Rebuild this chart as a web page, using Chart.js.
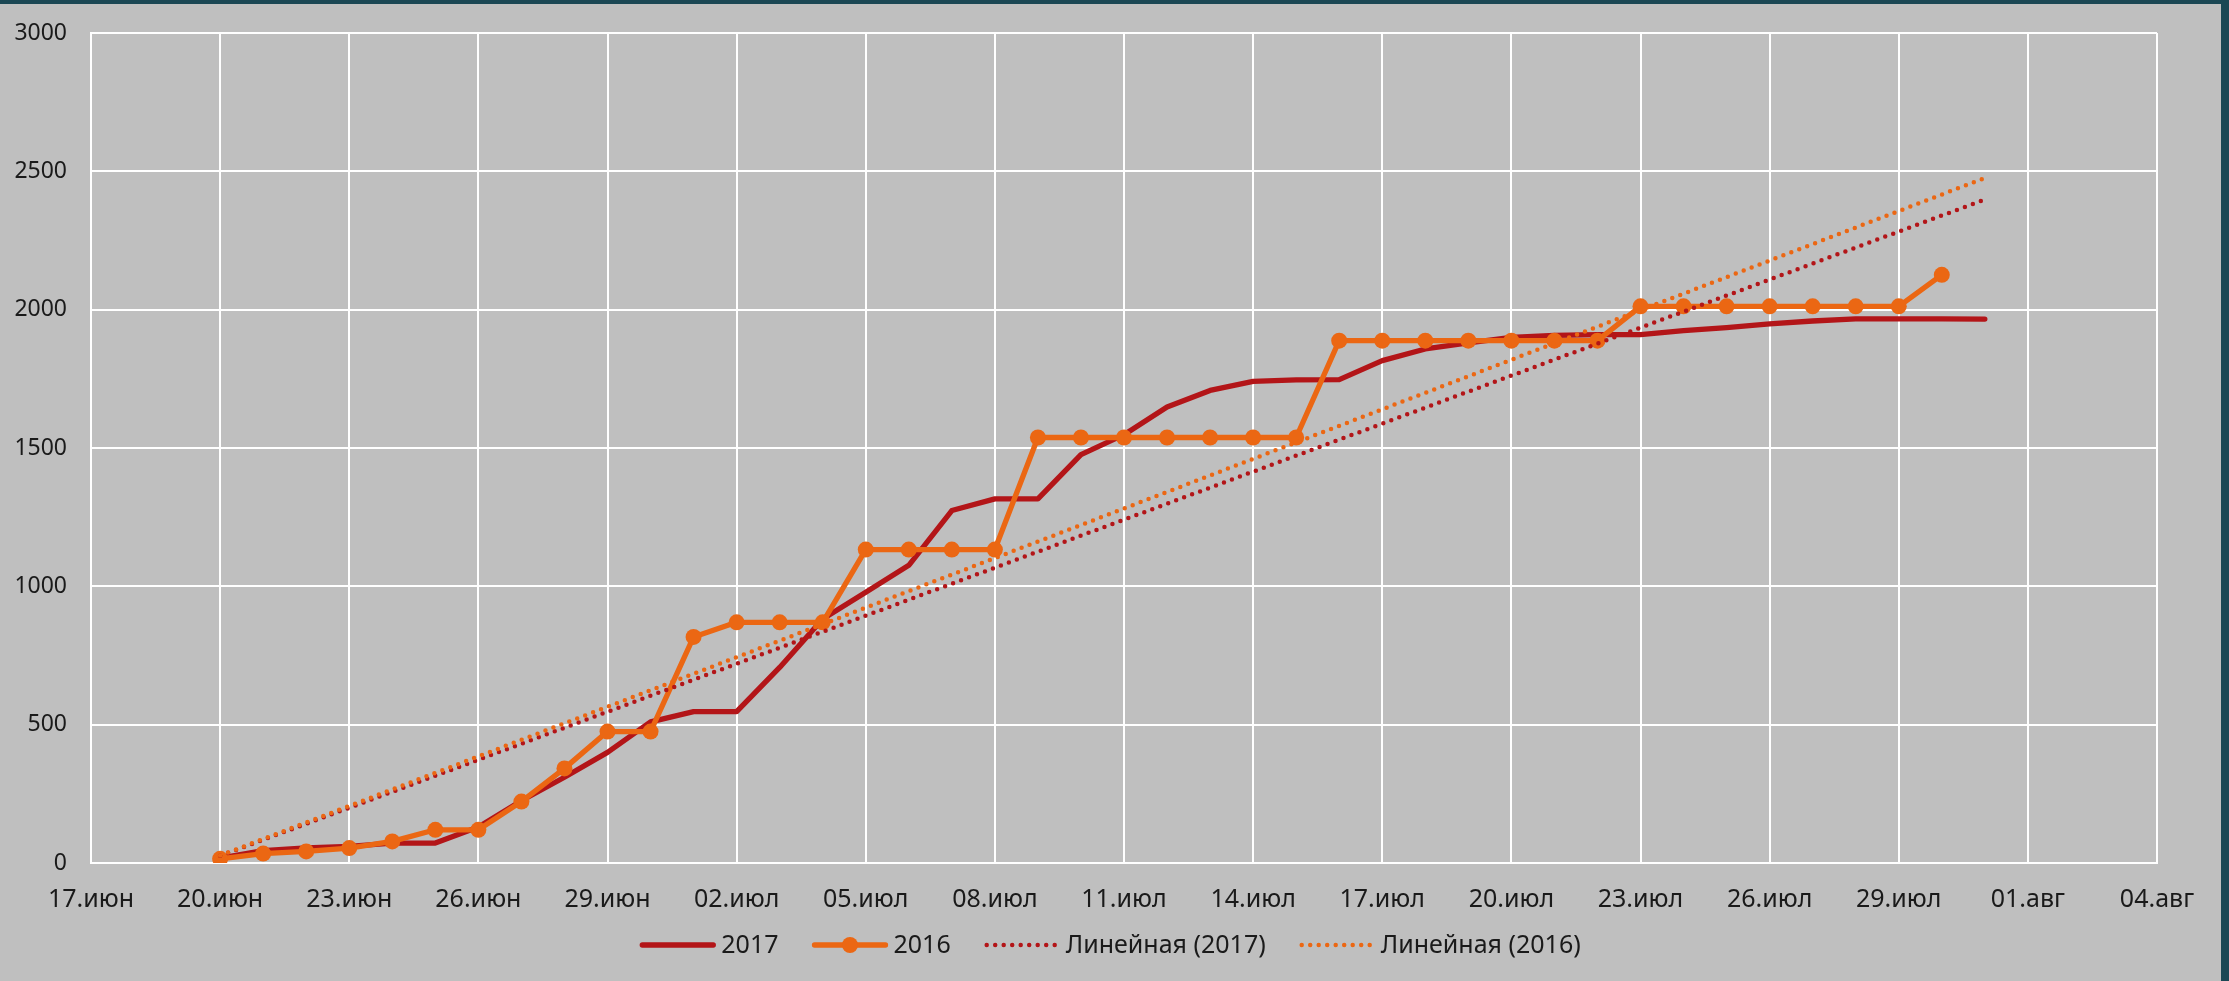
<!DOCTYPE html>
<html>
<head>
<meta charset="utf-8">
<script src="https://cdn.jsdelivr.net/npm/chart.js@4.4.1/dist/chart.umd.min.js"></script>
<style>
  html, body { margin: 0; padding: 0; background: #1b4754; overflow: hidden; }
  #wrap { position: absolute; left: 0; top: 4px; width: 2221px; height: 977px; background: #bfbfbf; }
  canvas { display: block; }
</style>
</head>
<body>
<div id="wrap"><canvas id="chart" width="2221" height="977"></canvas></div>
<script>
// x axis runs in days counted from 17.июн
const xTickLabels = ["17.июн", "20.июн", "23.июн", "26.июн", "29.июн", "02.июл", "05.июл",
  "08.июл", "11.июл", "14.июл", "17.июл", "20.июл", "23.июл", "26.июл", "29.июл", "01.авг", "04.авг"];
const yTicks = [0, 500, 1000, 1500, 2000, 2500, 3000];

const firstDay2017 = 3; // 20.июн
const values2017 = [18, 45, 55, 60, 72, 72, 130, 225, 310, 400, 510, 547, 547, 707, 882, 979,
  1076, 1274, 1316, 1316, 1476, 1548, 1648, 1708, 1741, 1746, 1747, 1816, 1858, 1880, 1900,
  1907, 1910, 1910, 1924, 1935, 1949, 1959, 1967, 1967, 1967, 1966];

const firstDay2016 = 3; // 20.июн
const values2016 = [15, 34, 42, 54, 78, 120, 120, 222, 342, 475, 475, 817, 870, 870, 870, 1133,
  1133, 1133, 1133, 1538, 1538, 1538, 1538, 1538, 1538, 1538, 1888, 1888, 1888, 1888, 1888,
  1888, 1888, 2012, 2012, 2012, 2012, 2012, 2012, 2012, 2126];

// linear trend lines, read at their two ends
const trendDays = [3, 44];
const trend2017 = [26, 2398];
const trend2016 = [27, 2476];

const legendNames = ["2017", "2016", "Линейная (2017)", "Линейная (2016)"];

const red = "#b31518";
const orange = "#eb6713";
const textColor = "#1a1a1a";
const fontFamily = "'Noto Sans', 'DejaVu Sans', sans-serif";
const yFontSize = 23;
const xFontSize = 25;

const toPoints = (start, vals) => vals.map((v, i) => ({ x: start + i, y: v }));
const trendPoints = (vals) => vals.map((v, i) => ({ x: trendDays[i], y: v }));

const legendPlugin = {
  id: "excelLegend",
  afterDraw(chart) {
    const ctx = chart.ctx;
    const sets = chart.data.datasets;
    ctx.save();
    ctx.font = xFontSize + "px " + fontFamily;
    ctx.textBaseline = "middle";
    ctx.fillStyle = textColor;
    const sample = 75, gapText = 6, gapItem = 34;
    const widths = sets.map((d) => sample + gapText + ctx.measureText(d.label).width);
    const total = widths.reduce((a, b) => a + b, 0) + gapItem * (sets.length - 1);
    let x = chart.width / 2 - total / 2;
    const y = 941;
    sets.forEach((d, i) => {
      ctx.save();
      ctx.strokeStyle = d.borderColor;
      ctx.lineWidth = d.borderWidth;
      ctx.lineCap = "round";
      if (d.borderDash) ctx.setLineDash(d.borderDash);
      ctx.beginPath();
      ctx.moveTo(x + 2, y);
      ctx.lineTo(x + sample - 2, y);
      ctx.stroke();
      if (d.pointRadius > 0) {
        ctx.fillStyle = d.pointBackgroundColor;
        ctx.beginPath();
        ctx.arc(x + sample / 2, y, d.pointRadius, 0, Math.PI * 2);
        ctx.fill();
      }
      ctx.restore();
      ctx.fillText(d.label, x + sample + gapText, y + 1);
      x += widths[i] + gapItem;
    });
    ctx.restore();
  }
};

new Chart(document.getElementById("chart"), {
  type: "line",
  data: {
    datasets: [
      {
        label: legendNames[0],
        data: toPoints(firstDay2017, values2017),
        borderColor: red,
        borderWidth: 5.3,
        borderCapStyle: "round",
        borderJoinStyle: "round",
        pointRadius: 0,
        tension: 0,
        order: 4
      },
      {
        label: legendNames[1],
        data: toPoints(firstDay2016, values2016),
        borderColor: orange,
        borderWidth: 5.3,
        borderJoinStyle: "round",
        pointRadius: 8,
        pointHoverRadius: 8,
        pointBackgroundColor: orange,
        pointBorderWidth: 0,
        tension: 0,
        order: 3
      },
      {
        label: legendNames[2],
        data: trendPoints(trend2017),
        borderColor: red,
        borderWidth: 4.5,
        borderDash: [0, 8.5],
        borderCapStyle: "round",
        pointRadius: 0,
        tension: 0,
        order: 2
      },
      {
        label: legendNames[3],
        data: trendPoints(trend2016),
        borderColor: orange,
        borderWidth: 4.5,
        borderDash: [0, 8.5],
        borderCapStyle: "round",
        pointRadius: 0,
        tension: 0,
        order: 1
      }
    ]
  },
  options: {
    responsive: false,
    animation: false,
    devicePixelRatio: 1,
    layout: { padding: { top: 29, right: 64, bottom: 0, left: 0 } },
    plugins: {
      legend: { display: false },
      tooltip: { enabled: false }
    },
    scales: {
      x: {
        type: "linear",
        min: 0,
        max: 48,
        afterBuildTicks: (scale) => {
          scale.ticks = xTickLabels.map((_, i) => ({ value: i * 3 }));
        },
        afterFit: (scale) => { scale.height = 118; },
        grid: { color: "#ffffff", lineWidth: 2, drawTicks: false },
        border: { color: "#ffffff", width: 2 },
        ticks: {
          autoSkip: false,
          maxRotation: 0,
          padding: 22,
          color: textColor,
          font: { family: fontFamily, size: xFontSize },
          callback: (value, index) => xTickLabels[index]
        }
      },
      y: {
        min: 0,
        max: 3000,
        afterBuildTicks: (scale) => {
          scale.ticks = yTicks.map((v) => ({ value: v }));
        },
        afterFit: (scale) => {
          scale.width = 91;
          scale.paddingTop = 0;
          scale.paddingBottom = 0;
        },
        grid: { color: "#ffffff", lineWidth: 2, drawTicks: false },
        border: { color: "#ffffff", width: 2 },
        ticks: {
          padding: 24,
          color: textColor,
          font: { family: fontFamily, size: yFontSize },
          callback: (value) => String(value)
        }
      }
    }
  },
  plugins: [legendPlugin]
});
</script>
</body>
</html>
